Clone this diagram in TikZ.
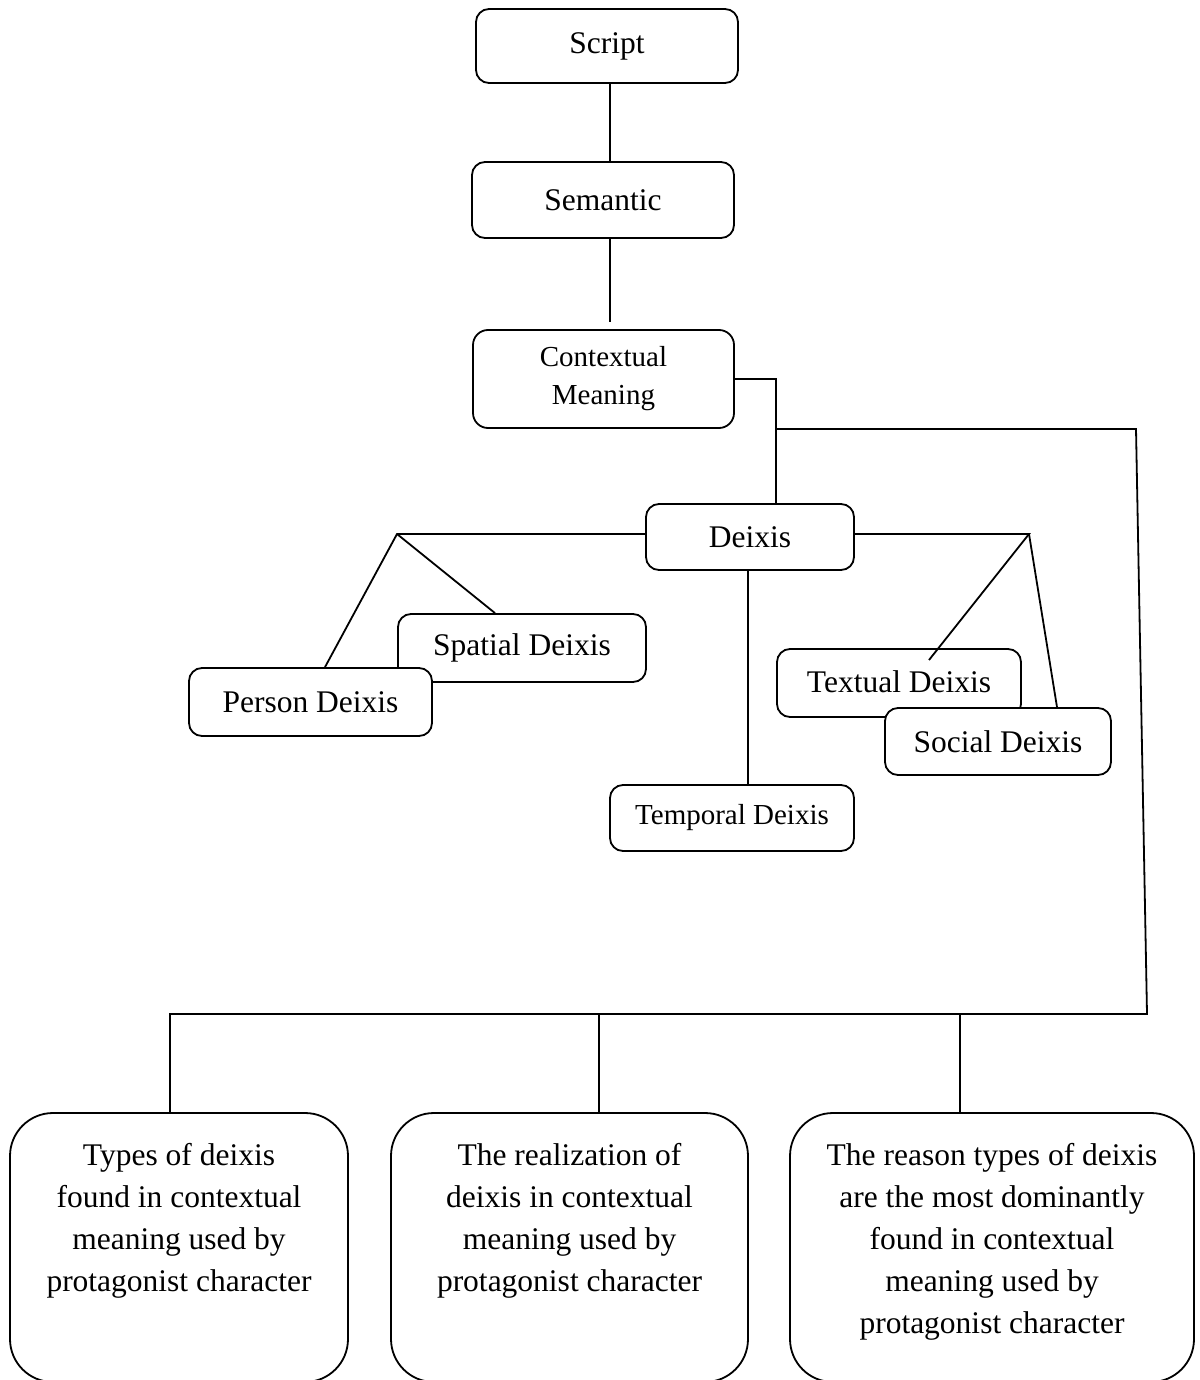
\documentclass[tikz,border=0pt]{standalone}
\usepackage{fontspec}
\setmainfont{Liberation Serif}
\begin{document}
\begin{tikzpicture}[x=1pt,y=-1pt,
  box/.style={draw, line width=1.8pt, rounded corners=13pt, fill=white, inner sep=0pt, align=center,
    font=\fontsize{31.5}{33}\selectfont},
  smallfont/.style={font=\fontsize{29}{38}\selectfont},
  bigbox/.style={draw, line width=1.8pt, rounded corners=43pt, fill=white, inner sep=0pt},
  conn/.style={line width=1.8pt},
  thin conn/.style={line width=1.1pt}]
\useasboundingbox (0,0) rectangle (1199,1380);
\clip (0,0) rectangle (1199,1380);

% upper boxes
\node[box, minimum width=262pt, minimum height=74pt] (script) at (607,46) {Script};
\node[box, minimum width=262pt, minimum height=76pt] (semantic) at (603,200) {Semantic};
\node[box, smallfont, minimum width=261pt, minimum height=98pt, rounded corners=15pt] (contextual) at (603.5,379) {Contextual\\Meaning};
\node[box, minimum width=208pt, minimum height=66pt] (deixis) at (750,537) {Deixis};
\node[box, minimum width=248pt, minimum height=68pt] (spatial) at (522,648) {Spatial Deixis};
\node[box, minimum width=243pt, minimum height=68pt] (person) at (310.5,702) {Person Deixis};
\node[box, minimum width=244pt, minimum height=68pt] (textual) at (899,683) {\raisebox{3pt}{Textual Deixis}};
\node[box, minimum width=226pt, minimum height=67pt] (social) at (998,741.5) {Social Deixis};
\node[box, smallfont, minimum width=244pt, minimum height=66pt] (temporal) at (732,818) {Temporal Deixis};

% bottom boxes
\newcommand{\bottext}[2]{\parbox[c][269pt][t]{#1}{\centering\fontsize{31.5}{42}\selectfont\vspace*{30pt}#2\par}}
\node[bigbox, minimum width=338pt, minimum height=269pt] (b1) at (179,1247.5)
  {\bottext{330pt}{Types of deixis\\found in contextual\\meaning used by\\protagonist character}};
\node[bigbox, minimum width=357pt, minimum height=269pt] (b2) at (569.5,1247.5)
  {\bottext{350pt}{The realization of\\deixis in contextual\\meaning used by\\protagonist character}};
\node[bigbox, minimum width=404pt, minimum height=269pt] (b3) at (992,1247.5)
  {\bottext{396pt}{The reason types of deixis\\are the most dominantly\\found in contextual\\meaning used by\\protagonist character}};

% helper coordinates
\coordinate (vl) at (610,0);
\coordinate (cj) at (776,0);
\coordinate (br1) at (776,429);
\coordinate (br2) at (1136,429);
\coordinate (br3) at (1147,1014);
\coordinate (br4) at (170,1014);
\coordinate (d2) at (599,1014);
\coordinate (d3) at (960,1014);
\coordinate (apexL) at (397,534);
\coordinate (apexR) at (1029,534);
\coordinate (txtend) at (929,660);
\coordinate (tl) at (748,0);

% connectors
\draw[conn] (script.south -| vl) -- (semantic.north -| vl);
\draw[conn, shorten >=7pt] (semantic.south -| vl) -- (contextual.north -| vl);
\draw[conn] (contextual.east) -| (deixis.north -| cj);
\draw[conn] (br1) -- (br2) -- (br3) -- (br4) -- (b1.north -| br4);
\draw[thin conn] (d2) -- (b2.north -| d2);
\draw[conn] (d3) -- (b3.north -| d3);
\draw[conn] (deixis.west |- apexL) -- (apexL) -- (person.north -| 325,0);
\draw[conn] (apexL) -- (spatial.north -| 495,0);
\draw[conn] (deixis.east |- apexR) -- (apexR) -- (txtend);
\draw[conn] (apexR) -- (social.north -| 1057,0);
\draw[conn] (deixis.south -| tl) -- (temporal.north -| tl);
\end{tikzpicture}
\end{document}
